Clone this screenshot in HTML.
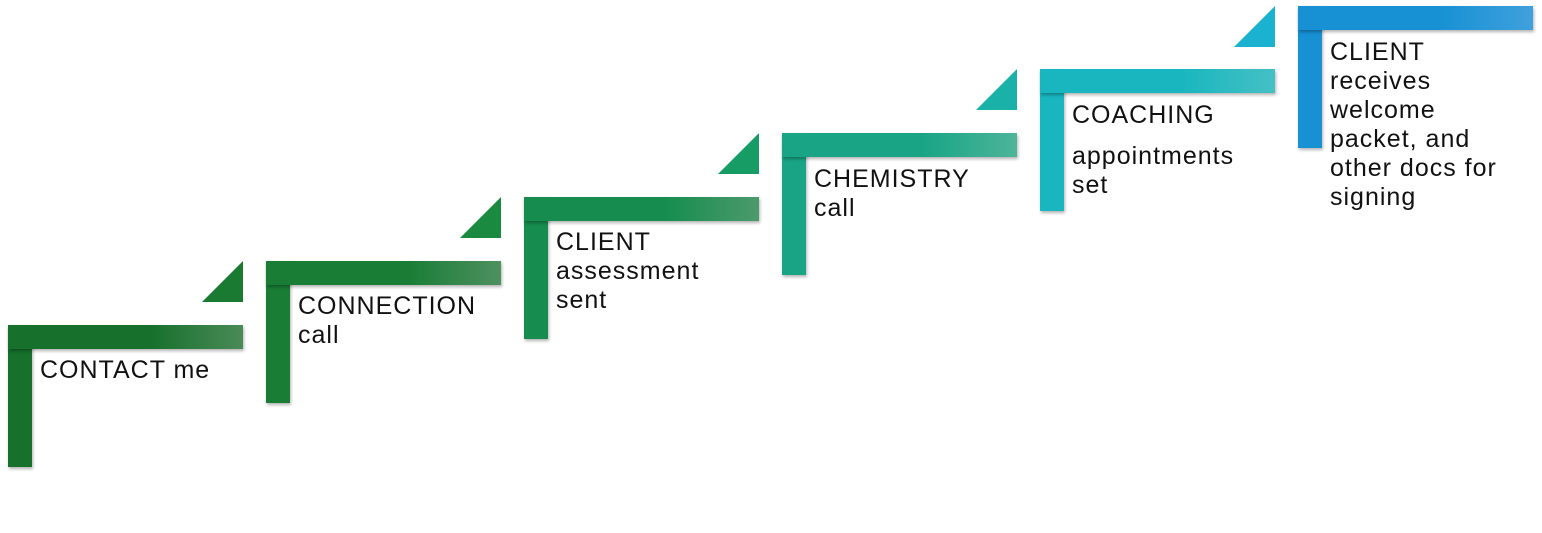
<!DOCTYPE html>
<html><head><style>
body{margin:0;width:1542px;height:533px;background:#fff;position:relative;overflow:hidden;font-family:"Liberation Sans",sans-serif;}
.h,.v,.t{position:absolute;box-shadow:1px 2px 3px rgba(0,0,0,0.3);}
.h{height:24px;width:235px;}
.v{width:24px;height:142px;}
.t{width:41px;height:41px;clip-path:polygon(100% 0,100% 100%,0 100%);box-shadow:none;}
.tx{position:absolute;font-size:25px;line-height:29px;color:#111;letter-spacing:1px;}
</style></head><body>
<div class="v" style="left:8px;top:325px;background:#17702c"></div>
<div class="h" style="left:8px;top:325px;background:linear-gradient(90deg,#17702c 60%,#4a8a58)"></div>
<div class="t" style="left:202px;top:261px;background:#1b7a32"></div>
<div class="tx" style="left:40px;top:356px">CONTACT me</div>

<div class="v" style="left:266px;top:261px;background:#197d36"></div>
<div class="h" style="left:266px;top:261px;background:linear-gradient(90deg,#197d36 60%,#4e9060)"></div>
<div class="t" style="left:460px;top:197px;background:#198a40"></div>
<div class="tx" style="left:298px;top:292px">CONNECTION<br>call</div>

<div class="v" style="left:524px;top:197px;background:#168d4e"></div>
<div class="h" style="left:524px;top:197px;background:linear-gradient(90deg,#168d4e 60%,#4c9a6c)"></div>
<div class="t" style="left:718px;top:133px;background:#189c65"></div>
<div class="tx" style="left:556px;top:228px">CLIENT<br>assessment<br>sent</div>

<div class="v" style="left:782px;top:133px;background:#19a585"></div>
<div class="h" style="left:782px;top:133px;background:linear-gradient(90deg,#19a585 60%,#4db49a)"></div>
<div class="t" style="left:976px;top:69px;background:#1ab1a8"></div>
<div class="tx" style="left:814px;top:165px">CHEMISTRY<br>call</div>

<div class="v" style="left:1040px;top:69px;background:#19b6bf"></div>
<div class="h" style="left:1040px;top:69px;background:linear-gradient(90deg,#19b6bf 60%,#45c0c4)"></div>
<div class="t" style="left:1234px;top:6px;background:#1ab2cf"></div>
<div class="tx" style="left:1072px;top:101px">COACHING</div>
<div class="tx" style="left:1072px;top:142px">appointments<br>set</div>

<div class="v" style="left:1298px;top:6px;background:#1791d4"></div>
<div class="h" style="left:1298px;top:6px;background:linear-gradient(90deg,#1791d4 60%,#40a0dc)"></div>
<div class="tx" style="left:1330px;top:38px">CLIENT<br>receives<br>welcome<br>packet, and<br>other docs for<br>signing</div>
</body></html>
